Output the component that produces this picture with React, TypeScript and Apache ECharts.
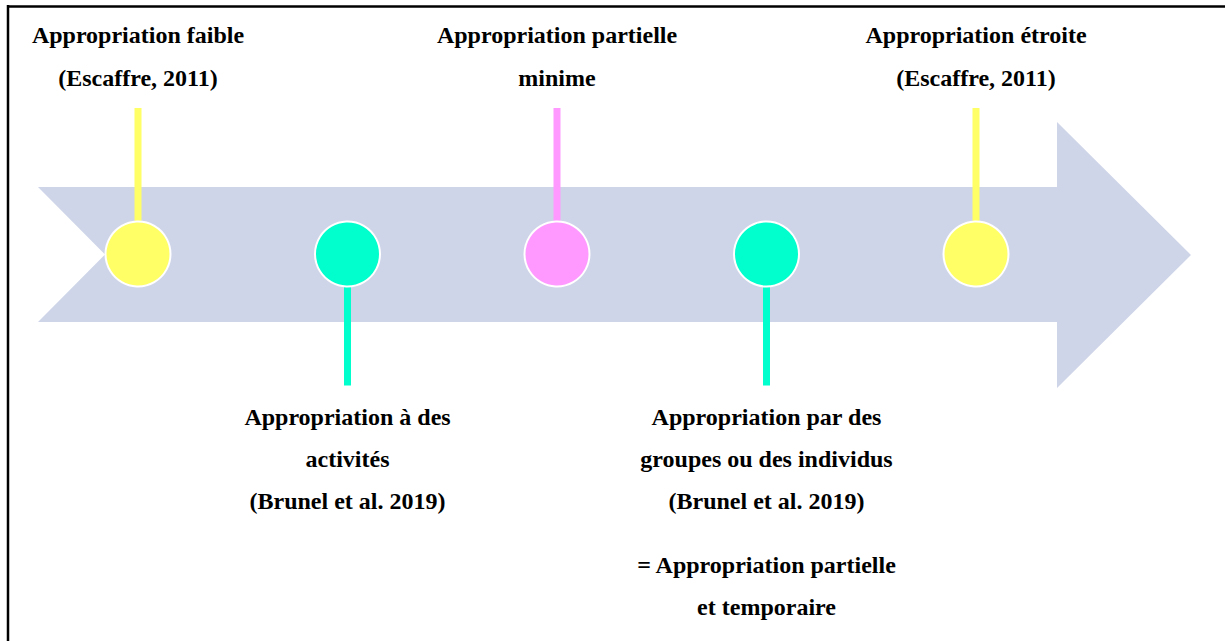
import React, { useEffect, useRef } from "react";
import * as echarts from "echarts";

// Five stages of appropriation along the timeline arrow
const stages = ["s1", "s2", "s3", "s4", "s5"];
// Stem direction/length: positive = label above, negative = label below
const stemLength = [1, -0.9, 1, -0.9, 1];
const circleLevel = [0, 0, 0, 0, 0];
const stageColors = ["#FFFF66", "#00FFCC", "#FF99FF", "#00FFCC", "#FFFF66"];
const stageLabels = [
  "Appropriation faible\n(Escaffre, 2011)",
  "Appropriation à des\nactivités\n(Brunel et al. 2019)",
  "Appropriation partielle\nminime",
  "Appropriation par des\ngroupes ou des individus\n(Brunel et al. 2019)\n{gap| }\n= Appropriation partielle\net temporaire",
  "Appropriation étroite\n(Escaffre, 2011)",
];

const FONT = "Liberation Serif";

export default function App() {
  const ref = useRef<HTMLDivElement>(null);
  useEffect(() => {
    document.body.style.margin = "0";
    const chart = echarts.init(ref.current!, null, { renderer: "svg" });
    const labelBase = {
      show: true,
      color: "#000",
      fontFamily: FONT,
      fontWeight: "bold" as const,
      fontSize: 24,
      align: "center" as const,
      rich: {
        gap: { fontSize: 2, lineHeight: 22, fontFamily: FONT },
      },
    };
    chart.setOption({
      animation: false,
      backgroundColor: "#ffffff",
      textStyle: { fontFamily: FONT },
      grid: { left: 33.25, width: 1047.5, top: 108, height: 292 },
      xAxis: {
        type: "category",
        data: stages,
        boundaryGap: true,
        show: false,
      },
      yAxis: { type: "value", min: -1, max: 1, show: false },
      graphic: [
        {
          type: "polygon",
          z: -10,
          silent: true,
          shape: {
            points: [
              [38, 187],
              [1057, 187],
              [1057, 122],
              [1191, 255],
              [1057, 388],
              [1057, 322],
              [38, 322],
              [105, 254.5],
            ],
          },
          style: { fill: "#CFD5E9" },
        },
        {
          type: "line",
          silent: true,
          shape: { x1: 8, y1: 5, x2: 8, y2: 641 },
          style: { stroke: "#000", lineWidth: 2.5 },
        },
        {
          type: "line",
          silent: true,
          shape: { x1: 7, y1: 6.5, x2: 1225, y2: 6.5 },
          style: { stroke: "#000", lineWidth: 2.5 },
        },
      ],
      series: [
        {
          type: "bar",
          barWidth: 7,
          silent: true,
          z: 2,
          data: stemLength.map((v, i) => ({
            value: v,
            itemStyle: { color: stageColors[i] },
            label: {
              ...labelBase,
              position: v > 0 ? "top" : "bottom",
              distance: v > 0 ? 8.5 : 11,
              lineHeight: v > 0 ? 43 : 42,
              formatter: stageLabels[i],
            },
          })),
        },
        {
          type: "scatter",
          symbol: "circle",
          symbolSize: 65,
          silent: true,
          z: 3,
          data: circleLevel.map((v, i) => ({
            value: [i, v],
            itemStyle: {
              color: stageColors[i],
              borderColor: "#ffffff",
              borderWidth: 2,
              opacity: 1,
            },
          })),
        },
      ],
    });
    return () => chart.dispose();
  }, []);
  return (
    <div
      ref={ref}
      style={{ position: "fixed", left: 0, top: 0, width: 1225, height: 641 }}
    />
  );
}
